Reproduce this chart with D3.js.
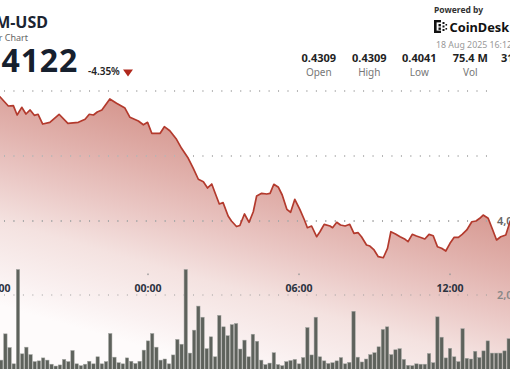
<!DOCTYPE html>
<html>
<head>
<meta charset="utf-8">
<script src="https://cdn.jsdelivr.net/npm/d3@7"></script>
<style>
	body { margin: 0; background: #fff; overflow: hidden; }
	svg { display: block; font-family: "Noto Sans", "Open Sans", sans-serif; }
</style>
</head>
<body>
<div id="chart"></div>
<script>

// price line: minutes after 17 Aug 18:00, price in USD
let priceMinutes = [-108, -60, -20, 7, 27, 39, 48, 59, 69, 79, 89, 98, 109, 126, 148, 169, 194, 210, 220, 230, 239, 250,
	269, 285, 305, 317, 337, 349, 359, 369, 389, 399, 412, 428, 440, 456, 468, 480, 492, 502, 512, 520, 530, 539,
	551, 559, 571, 579, 590, 601, 611, 619, 631, 643, 651, 660, 671, 680, 691, 700, 710, 722, 733, 740, 750, 762,
	770, 780, 794, 800, 810, 819, 830, 841, 851, 861, 869, 881, 889, 899, 909, 921, 931, 939, 950, 961, 973, 980,
	990, 1000, 1012, 1020, 1030, 1040, 1050, 1060, 1070, 1080, 1090, 1100, 1109, 1120, 1132, 1142, 1151, 1159,
	1171, 1181, 1191, 1201, 1213, 1223, 1235, 1260, 1300, 1332];
let prices = [0.4309, 0.4302, 0.4296, 0.42912, 0.42769, 0.42774, 0.42631, 0.42749, 0.42646, 0.42708, 0.42626, 0.42642,
	0.42492, 0.42518, 0.42642, 0.42503, 0.42518, 0.42565, 0.42642, 0.42631, 0.42677, 0.42708,
	0.42877, 0.42811, 0.42738, 0.42595, 0.42538, 0.4248, 0.42518, 0.42349, 0.42349, 0.42451, 0.42389, 0.42257,
	0.42118, 0.41965, 0.41811, 0.41642, 0.41605, 0.41508, 0.41569, 0.41431, 0.41262, 0.41282,
	0.41077, 0.41, 0.40915, 0.40931, 0.41108, 0.4098, 0.41143, 0.41385, 0.41426, 0.41415, 0.41426, 0.41565,
	0.41518, 0.414, 0.4118, 0.41134, 0.41334, 0.4118, 0.41015, 0.40897, 0.40923, 0.40758,
	0.40835, 0.40949, 0.40923, 0.40897, 0.4098, 0.40938, 0.40923, 0.40949, 0.40811, 0.4082, 0.40758, 0.40631,
	0.40615, 0.40554, 0.40451, 0.40435, 0.4058, 0.40835, 0.408, 0.40758, 0.40718, 0.40682,
	0.40795, 0.40769, 0.40743, 0.40723, 0.40795, 0.40774, 0.40605, 0.4058, 0.40538, 0.40657, 0.40749, 0.40749,
	0.40795, 0.40862, 0.40989, 0.41, 0.41042, 0.41092,
	0.41042, 0.40877, 0.40708, 0.40758, 0.40785, 0.40989, 0.4115, 0.4120, 0.4110, 0.4122];

// 10 minute volume bars, first bar at 17 Aug 18:00 (millions)
let volumes = [0.56, 0.24, 0.95, 0.58, 0.14, 2.69, 0.41, 0.59, 0.39, 0.20, 0.22, 0.30,
	0.24, 0.13, 0.08, 0.11, 0.26, 0.20, 0.50, 0.14, 0.09, 0.13, 0.21, 0.14,
	0.33, 0.14, 0.20, 0.96, 0.32, 0.17, 0.14, 0.30, 0.21, 0.15, 0.21, 0.51,
	0.76, 0.96, 0.59, 0.24, 0.27, 0.14, 0.38, 0.80, 0.67, 2.69, 0.43, 1.05,
	1.70, 1.40, 0.55, 0.87, 0.33, 1.45, 1.14, 0.90, 1.20, 1.23, 0.54, 0.78,
	0.33, 0.94, 0.75, 0.24, 0.12, 0.16, 0.44, 0.12, 0.09, 0.20, 0.23, 0.26,
	0.14, 0.31, 1.12, 0.38, 1.40, 0.33, 0.22, 0.15, 0.17, 0.22, 0.31, 0.14,
	0.18, 1.56, 0.32, 0.19, 0.27, 0.39, 0.44, 0.60, 1.07, 1.14, 0.39, 0.52,
	0.55, 0.26, 0.10, 0.09, 0.14, 0.13, 0.13, 0.42, 0.17, 1.41, 0.86, 0.30,
	0.56, 0.33, 0.20, 1.09, 0.29, 0.27, 0.48, 0.31, 0.49, 0.76, 0.43, 0.43,
	0.43, 0.49, 0.82];

let priceTicks = [0.41, 0.42, 0.43];
let volumeTicks = [2e6, 4e6];
let timeTicks = ["2025-08-17T18:00", "2025-08-18T00:00", "2025-08-18T06:00", "2025-08-18T12:00", "2025-08-18T18:00"];

let statValues = ["0.4309", "0.4309", "0.4041", "75.4 M", "31.1 M"];
let statLabels = ["Open", "High", "Low", "Vol", "Val"];

let dateParser = d3.timeParse("%Y-%m-%dT%H:%M");
let hourFormat = d3.timeFormat("%H:%M");
let startTime = dateParser("2025-08-17T18:00");

let priceData = priceMinutes.map((m, i) => ({ time: d3.timeMinute.offset(startTime, m), price: prices[i] }));
let volumeData = volumes.map((v, i) => ({ time: d3.timeMinute.offset(startTime, i * 10), vol: v * 1e6 }));

let width = 510, height = 369;

let svg = d3.select("#chart").append("svg")
	.attr("width", width)
	.attr("height", height);

let x = d3.scaleTime()
	.domain([dateParser("2025-08-18T00:00"), dateParser("2025-08-18T12:00")])
	.range([148, 450]);

let y = d3.scaleLinear()
	.domain([0.41, 0.43])
	.range([221, 91]);

let yVol = d3.scaleLinear()
	.domain([0, 4e6])
	.range([369, 221]);

// gradient under the line
let defs = svg.append("defs");
let grad = defs.append("linearGradient")
	.attr("id", "areaGrad")
	.attr("gradientUnits", "userSpaceOnUse")
	.attr("x1", 300).attr("y1", 91)
	.attr("x2", 220).attr("y2", 369);
let stops = [[0, "#c4685d"], [0.2, "#d5968e"], [0.4, "#e1b1ac"], [0.55, "#eac7c4"], [0.72, "#f4e2e0"], [0.9, "#faf1f1"], [1, "#fefbfb"]];
stops.forEach(s => grad.append("stop").attr("offset", s[0]).attr("stop-color", s[1]));

let area = d3.area()
	.x(d => x(d.time))
	.y0(height + 10)
	.y1(d => y(d.price));

let line = d3.line()
	.x(d => x(d.time))
	.y(d => y(d.price));

svg.append("path")
	.datum(priceData)
	.attr("d", area)
	.attr("fill", "url(#areaGrad)");

// price grid
svg.selectAll(".pgrid")
	.data(priceTicks)
	.enter()
	.append("line")
	.attr("class", "pgrid")
	.attr("x1", 4).attr("x2", 492)
	.attr("y1", d => y(d)).attr("y2", d => y(d))
	.attr("stroke", "#b5b5b5")
	.attr("stroke-width", 2)
	.attr("stroke-dasharray", "1 8.45");

// volume grid
svg.selectAll(".vgrid")
	.data(volumeTicks)
	.enter()
	.append("line")
	.attr("class", "vgrid")
	.attr("x1", 4).attr("x2", 492)
	.attr("y1", d => yVol(d)).attr("y2", d => yVol(d))
	.attr("stroke", "#9a9a9a")
	.attr("stroke-width", 1)
	.attr("stroke-dasharray", "1 8.45");

svg.selectAll(".vlabel")
	.data(volumeTicks)
	.enter()
	.append("text")
	.attr("class", "vlabel")
	.attr("x", 497)
	.attr("y", d => yVol(d) + 4)
	.attr("font-size", 11)
	.attr("font-weight", 600)
	.attr("fill", (d, i) => i == 0 ? "#888" : "#666")
	.text(d => d3.format(",")(d));

svg.append("path")
	.datum(priceData)
	.attr("d", line)
	.attr("fill", "none")
	.attr("stroke", "#b33a2d")
	.attr("stroke-width", 1.7)
	.attr("stroke-linejoin", "round");

// volume bars
let barW = 3.4;
svg.selectAll(".bar")
	.data(volumeData)
	.enter()
	.append("rect")
	.attr("class", "bar")
	.attr("x", d => x(d.time) - barW / 2)
	.attr("width", barW)
	.attr("y", d => yVol(d.vol))
	.attr("height", d => yVol(0) - yVol(d.vol) + 2)
	.attr("fill", "#5e625c")
	.attr("stroke", "#a4a6a2")
	.attr("stroke-width", 0.5);

// time axis
let ticks = timeTicks.map(dateParser);
svg.selectAll(".tdot")
	.data(ticks)
	.enter()
	.append("rect")
	.attr("class", "tdot")
	.attr("x", d => x(d) - 0.7)
	.attr("y", 273.5)
	.attr("width", 1.4)
	.attr("height", 1.6)
	.attr("fill", "#999");

svg.selectAll(".tlabel")
	.data(ticks)
	.enter()
	.append("text")
	.attr("class", "tlabel")
	.attr("x", d => x(d))
	.attr("y", 292)
	.attr("text-anchor", "middle")
	.attr("font-size", 10.5)
	.attr("font-weight", 700)
	.attr("fill", "#2b3340")
	.text(d => hourFormat(d));

// header
svg.append("text").attr("x", 48).attr("y", 28).attr("text-anchor", "end")
	.attr("font-size", 16).attr("font-weight", 700).attr("fill", "#1b2432").text("XLM-USD");
svg.append("text").attr("x", 28).attr("y", 40.5).attr("text-anchor", "end")
	.attr("font-size", 9).attr("fill", "#666").text("24 Hour Chart");
svg.append("text").attr("x", 78).attr("y", 72).attr("text-anchor", "end")
	.attr("font-size", 32).attr("font-weight", 700).attr("letter-spacing", 0.8)
	.attr("fill", "#16202e").text("0.4122");
svg.append("text").attr("x", 88).attr("y", 75)
	.attr("font-size", 10).attr("font-weight", 600).attr("fill", "#222").text("-4.35%");
svg.append("path").attr("d", "M123,69.5 L133,69.5 L128,76.5 Z").attr("fill", "#b0281c");

// powered by
svg.append("text").attr("x", 434).attr("y", 13)
	.attr("font-size", 8.5).attr("font-weight", 700).attr("fill", "#333").text("Powered by");
let logo = svg.append("g").attr("fill", "#111");
[[434, 20, 2.6, 13], [434, 20, 7, 2.4], [434, 30.6, 7, 2.4], [438.5, 24, 2.4, 2.4], [438.5, 27.5, 2.4, 2.4],
	[442.5, 22, 2, 2], [442.5, 25.5, 2, 2], [442.5, 29, 2, 2], [445.5, 24, 1.6, 1.6], [445.5, 28, 1.6, 1.6]]
	.forEach(r => logo.append("rect").attr("x", r[0]).attr("y", r[1]).attr("width", r[2]).attr("height", r[3]));
svg.append("text").attr("x", 449.5).attr("y", 32)
	.attr("font-size", 12.8).attr("font-weight", 700).attr("fill", "#111").text("CoinDesk");
svg.append("text").attr("x", 436).attr("y", 48)
	.attr("font-size", 8.8).attr("fill", "#999").text("18 Aug 2025 16:12 UTC");

// stats
let statX = [318.8, 369.3, 419.3, 470.3, 518.5];
svg.selectAll(".sval")
	.data(statValues)
	.enter()
	.append("text")
	.attr("class", "sval")
	.attr("x", (d, i) => statX[i])
	.attr("y", 62)
	.attr("text-anchor", "middle")
	.attr("font-size", 11)
	.attr("font-weight", 700)
	.attr("fill", "#222")
	.text(d => d);

svg.selectAll(".slab")
	.data(statLabels)
	.enter()
	.append("text")
	.attr("class", "slab")
	.attr("x", (d, i) => statX[i])
	.attr("y", 76)
	.attr("text-anchor", "middle")
	.attr("font-size", 10)
	.attr("fill", "#777")
	.text(d => d);

</script>
</body>
</html>
